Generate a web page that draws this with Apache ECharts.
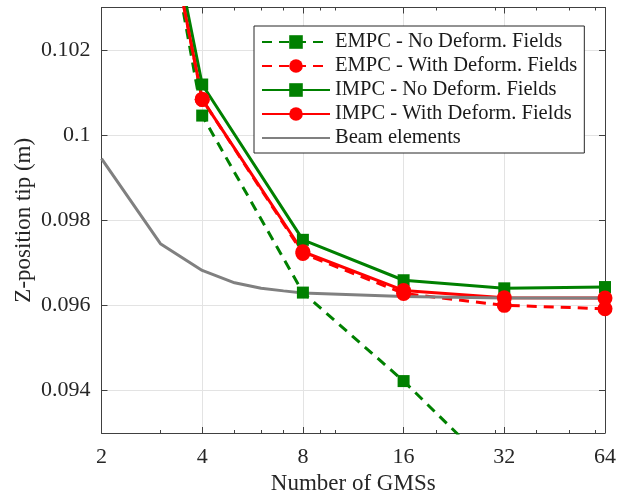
<!DOCTYPE html>
<html>
<head>
<meta charset="utf-8">
<script src="https://cdn.jsdelivr.net/npm/echarts@6/dist/echarts.min.js"></script>
<style>
  html, body { margin: 0; padding: 0; background: #fff; }
  #chart { width: 624px; height: 501px; }
</style>
</head>
<body>
<div id="chart"></div>
<script>
// number of GMSs (x, log2 axis)
const gmsCounts = [2, 4, 8, 16, 32, 64]
const empcNoDeform = [0.1135, 0.10046, 0.09630, 0.09422, 0.0919, 0.0905]
const empcWithDeform = [0.1128, 0.10084, 0.09722, 0.09628, 0.09600, 0.09592]
const impcNoDeform = [0.1130, 0.10119, 0.09754, 0.09659, 0.09640, 0.09643]
const impcWithDeform = [0.1128, 0.10084, 0.09726, 0.09635, 0.09618, 0.09617]

const beamCounts = [2, 3, 4, 5, 6, 7, 8, 16, 32, 64]
const beamElements = [0.09945, 0.09745, 0.09682, 0.09653, 0.09640, 0.09634, 0.09629, 0.09621, 0.09617, 0.09617]

const xMinorTicks = [3, 5, 6, 7, 9, 10, 20, 30, 40, 50, 60]
const yTickValues = [0.094, 0.096, 0.098, 0.1, 0.102]

const FONT = 'Liberation Serif'
const AXIS_COLOR = '#404040'
const GREEN = '#008000'
const RED = '#ff0000'
const GRAY = '#808080'

function pairs(xs, ys) {
  return xs.map((x, i) => [Math.log2(x), ys[i]])
}

const minorPos = xMinorTicks.map(v => Math.log2(v))

function xAxisBase(position) {
  return {
    type: 'value',
    position: position,
    min: 1,
    max: 6,
    interval: 1,
    axisLine: { show: false, onZero: false },
    axisLabel: { show: false },
    axisTick: { show: false },
    splitLine: { show: false }
  }
}

const chart = echarts.init(document.getElementById('chart'))

chart.setOption({
  animation: false,
  grid: {
    left: 101.5,
    right: 19,
    top: 7.5,
    bottom: 68,
    containLabel: false
  },
  legend: {
    orient: 'vertical',
    left: 254,
    top: 26,
    padding: [4, 7, 3, 7],
    itemWidth: 68,
    itemHeight: 17,
    itemGap: 0,
    backgroundColor: '#fff',
    borderColor: '#262626',
    borderWidth: 1,
    textStyle: {
      fontFamily: FONT,
      fontSize: 20.5,
      color: '#1a1a1a',
      lineHeight: 24
    },
    data: [
      'EMPC - No Deform. Fields',
      'EMPC - With Deform. Fields',
      'IMPC - No Deform. Fields',
      'IMPC - With Deform. Fields',
      { name: 'Beam elements', itemStyle: { opacity: 0 } }
    ]
  },
  xAxis: [
    Object.assign(xAxisBase('bottom'), {
      name: 'Number of GMSs',
      nameLocation: 'middle',
      nameGap: 39,
      nameMoveOverlap: false,
      nameTextStyle: { fontFamily: FONT, fontSize: 23, color: '#262626' },
      axisLine: { show: true, onZero: false, lineStyle: { color: AXIS_COLOR, width: 1 } },
      axisTick: { show: true, inside: true, length: 6, lineStyle: { color: AXIS_COLOR } },
      axisLabel: {
        show: true,
        margin: 13,
        fontFamily: FONT,
        fontSize: 22,
        color: '#262626',
        formatter: v => String(Math.round(Math.pow(2, v)))
      },
      splitLine: { show: true, lineStyle: { color: '#e3e3e3', width: 1 } }
    }),
    Object.assign(xAxisBase('bottom'), {
      axisTick: { show: true, inside: true, length: 3, customValues: minorPos, lineStyle: { color: AXIS_COLOR } }
    }),
    Object.assign(xAxisBase('top'), {
      axisLine: { show: true, onZero: false, lineStyle: { color: AXIS_COLOR, width: 1 } },
      axisTick: { show: true, inside: true, length: 6, lineStyle: { color: AXIS_COLOR } }
    }),
    Object.assign(xAxisBase('top'), {
      axisTick: { show: true, inside: true, length: 3, customValues: minorPos, lineStyle: { color: AXIS_COLOR } }
    })
  ],
  yAxis: [
    {
      type: 'value',
      position: 'left',
      min: 0.093,
      max: 0.103,
      name: 'Z-position tip (m)',
      nameLocation: 'middle',
      nameGap: 66,
      nameMoveOverlap: false,
      nameTextStyle: { fontFamily: FONT, fontSize: 23, color: '#262626' },
      axisLine: { show: true, onZero: false, lineStyle: { color: AXIS_COLOR, width: 1 } },
      axisTick: { show: true, inside: true, length: 6, customValues: yTickValues, lineStyle: { color: AXIS_COLOR } },
      axisLabel: {
        show: true,
        margin: 11,
        fontFamily: FONT,
        fontSize: 22,
        color: '#262626',
        customValues: yTickValues,
        formatter: v => String(+v.toFixed(3))
      },
      splitLine: { show: true, lineStyle: { color: '#e3e3e3', width: 1 } }
    },
    {
      type: 'value',
      position: 'right',
      min: 0.093,
      max: 0.103,
      axisLine: { show: true, onZero: false, lineStyle: { color: AXIS_COLOR, width: 1 } },
      axisTick: { show: true, inside: true, length: 6, customValues: yTickValues, lineStyle: { color: AXIS_COLOR } },
      axisLabel: { show: false },
      splitLine: { show: false }
    }
  ],
  series: [
    {
      name: 'EMPC - No Deform. Fields',
      type: 'line',
      data: pairs(gmsCounts, empcNoDeform),
      symbol: 'rect',
      symbolSize: 12,
      lineStyle: { color: GREEN, width: 3, type: [10, 7] },
      itemStyle: { color: GREEN }
    },
    {
      name: 'EMPC - With Deform. Fields',
      type: 'line',
      data: pairs(gmsCounts, empcWithDeform),
      symbol: 'circle',
      symbolSize: 15,
      lineStyle: { color: RED, width: 3, type: [10, 7] },
      itemStyle: { color: RED }
    },
    {
      name: 'IMPC - No Deform. Fields',
      type: 'line',
      data: pairs(gmsCounts, impcNoDeform),
      symbol: 'rect',
      symbolSize: 12,
      lineStyle: { color: GREEN, width: 3 },
      itemStyle: { color: GREEN }
    },
    {
      name: 'IMPC - With Deform. Fields',
      type: 'line',
      data: pairs(gmsCounts, impcWithDeform),
      symbol: 'circle',
      symbolSize: 15,
      lineStyle: { color: RED, width: 3 },
      itemStyle: { color: RED }
    },
    {
      name: 'Beam elements',
      type: 'line',
      data: pairs(beamCounts, beamElements),
      symbol: 'none',
      lineStyle: { color: GRAY, width: 3 },
      itemStyle: { color: GRAY }
    }
  ]
})
</script>
</body>
</html>
